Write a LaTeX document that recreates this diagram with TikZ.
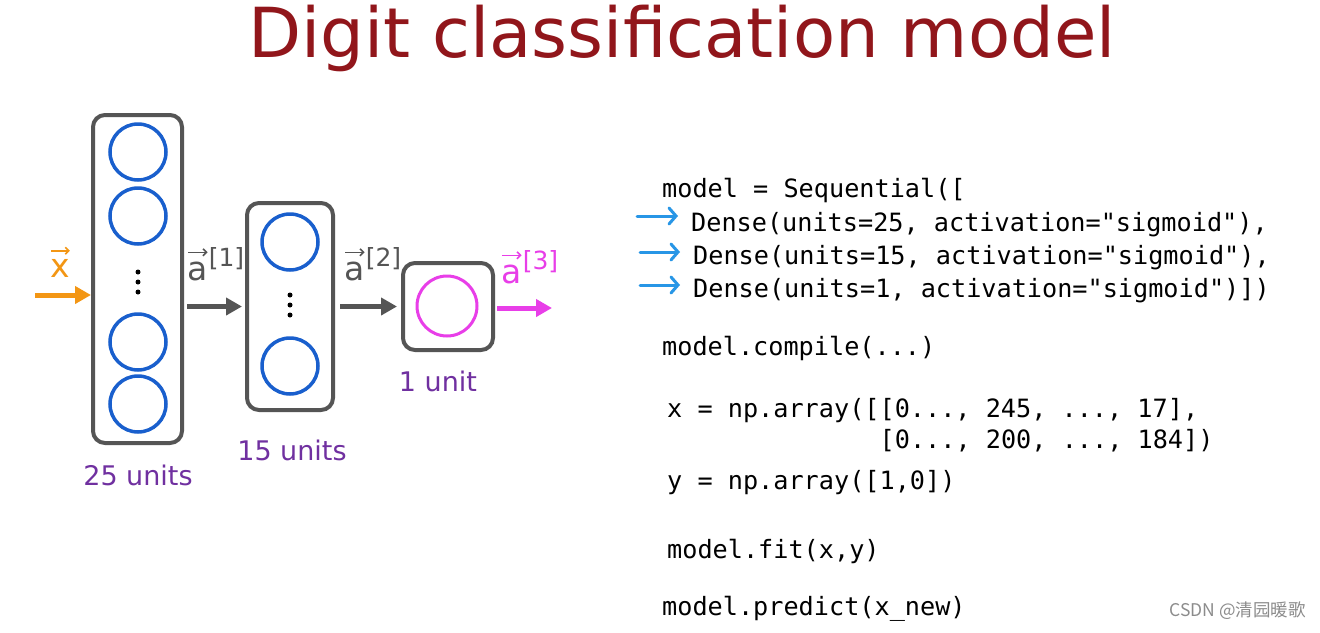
\documentclass[tikz,border=0pt]{standalone}
\usepackage{fontspec}
\setmainfont{DejaVu Sans}
\setmonofont{DejaVu Sans Mono}
\newfontfamily\cjkfont{Noto Sans CJK SC}
\usetikzlibrary{arrows.meta}
\definecolor{titlered}{RGB}{145,22,27}
\definecolor{boxgray}{RGB}{85,85,85}
\definecolor{unitblue}{RGB}{25,95,205}
\definecolor{outmag}{RGB}{232,62,232}
\definecolor{inorange}{RGB}{243,150,20}
\definecolor{unitpurple}{RGB}{112,48,160}
\definecolor{codeblue}{RGB}{40,150,230}
\begin{document}
\begin{tikzpicture}[x=1pt,y=-1pt,
  layerbox/.style={draw=boxgray, line width=4pt, rounded corners=12pt, inner sep=0pt},
  unit/.style={circle, draw=unitblue, line width=3.5pt, minimum size=56pt, inner sep=0pt},
  outunit/.style={circle, draw=outmag, line width=3pt, minimum size=60pt, inner sep=0pt},
  vdot/.style={circle, fill=black, minimum size=5pt, inner sep=0pt},
  unitlabel/.style={text=unitpurple, font=\fontsize{27}{30}\selectfont, anchor=base, inner sep=0pt},
  vlabel/.style={anchor=base west, inner sep=0pt, font=\fontsize{33}{36}\selectfont},
  suplabel/.style={anchor=base west, inner sep=0pt, font=\fontsize{25}{27}\selectfont},
  vecarrow/.style={line width=1.6pt, -{Straight Barb[length=3.5pt,width=7pt]}},
  flow/.style={line width=5pt, -{Triangle[length=16pt,width=17pt]}},
  code/.style={font=\ttfamily\fontsize{25.2}{28}\selectfont, anchor=base west, inner sep=0pt, text=black},
  codearrow/.style={draw=codeblue, line width=3pt, line cap=round, -{Straight Barb[length=7pt,width=16pt,line cap=round]}}
]
\fill[white] (0,0) rectangle (1320,632);
\useasboundingbox (0,0) rectangle (1320,632);

% title
\node[font=\fontsize{69}{72}\selectfont, text=titlered, anchor=base, inner sep=0pt] (title) at (682,57) {Digit classification model};

% layer boxes
\node[layerbox, minimum width=89pt, minimum height=328pt] (L1) at (137.5,279) {};
\node[layerbox, minimum width=86pt, minimum height=207pt] (L2) at (290,306.5) {};
\node[layerbox, minimum width=90pt, minimum height=87pt] (L3) at (448,306.5) {};

% units
\node[unit] (u11) at (138,152) {};
\node[unit] (u12) at (138,216) {};
\node[unit] (u13) at (138,342) {};
\node[unit] (u14) at (138,404) {};
\node[vdot] (d11) at (138,272) {};
\node[vdot] (d12) at (138,282) {};
\node[vdot] (d13) at (138,292) {};
\node[unit] (u21) at (290,242) {};
\node[unit] (u22) at (290,366) {};
\node[vdot] (d21) at (290,295) {};
\node[vdot] (d22) at (290,305) {};
\node[vdot] (d23) at (290,315) {};
\node[outunit] (u31) at (447,306) {};

% unit labels
\node[unitlabel] (n25) at (138,485) {25 units};
\node[unitlabel] (n15) at (292,460) {15 units};
\node[unitlabel] (n1) at (438,391) {1 unit};

% flow arrows
\coordinate (xin) at (35,295);
\coordinate (aout) at (552,308);
\draw[flow, inorange] (xin) -- (xin -| L1.west);
\draw[flow, boxgray, shorten <=3pt, shorten >=3pt] (L1.east |- L2.west) -- (L2.west);
\draw[flow, boxgray, shorten <=5pt, shorten >=4pt] (L2.east |- L3.west) -- (L3.west);
\draw[flow, outmag, shorten <=2pt] (L3.east |- aout) -- (aout);

% vector labels
\node[vlabel, text=inorange] (lx) at (50,277) {x};
\node[vlabel, text=boxgray] (la1) at (187,280) {a};
\node[vlabel, text=boxgray] (la2) at (344,280) {a};
\node[vlabel, text=outmag] (la3) at (501,283) {a};
\node[suplabel, text=boxgray] (sa1) at ([xshift=1pt,yshift=14pt]la1.base east) {[1]};
\node[suplabel, text=boxgray] (sa2) at ([xshift=1pt,yshift=14pt]la2.base east) {[2]};
\node[suplabel, text=outmag] (sa3) at ([xshift=1pt,yshift=14pt]la3.base east) {[3]};
\draw[vecarrow, inorange] ([xshift=1pt,yshift=8pt]lx.north west) -- ([yshift=8pt]lx.north east);
\draw[vecarrow, boxgray] ([xshift=1pt,yshift=9pt]la1.north west) -- ([yshift=9pt]la1.north east);
\draw[vecarrow, boxgray] ([xshift=1pt,yshift=9pt]la2.north west) -- ([yshift=9pt]la2.north east);
\draw[vecarrow, outmag] ([xshift=1pt,yshift=9pt]la3.north west) -- ([yshift=9pt]la3.north east);

% code
\node[code] (c0) at (662,197) {model = Sequential([};
\node[code] (c1) at (691,231) {Dense(units=25, activation="sigmoid"),};
\node[code] (c2) at (693,264) {Dense(units=15, activation="sigmoid"),};
\node[code] (c3) at (693,297) {Dense(units=1, activation="sigmoid")])};
\node[code] (c4) at (662,355) {model.compile(...)};
\node[code] (c5) at (667,417) {x = np.array([[0..., 245, ..., 17],};
\node[code] (c6) at (879.5,448) {[0..., 200, ..., 184])};
\node[code] (c7) at (667,489) {y = np.array([1,0])};
\node[code] (c8) at (667,558) {model.fit(x,y)};
\node[code] (c9) at (662,615) {model.predict(x\_new)};

% code pointers
\coordinate (b1) at (637,216);
\coordinate (b2) at (640,252);
\coordinate (b3) at (640,285);
\draw[codearrow, shorten >=13pt] (b1) -- (b1 -| c1.west);
\draw[codearrow, shorten >=13pt] (b2) -- (b2 -| c2.west);
\draw[codearrow, shorten >=13pt] (b3) -- (b3 -| c3.west);

% watermark
\node[font=\cjkfont\fontsize{17.5}{19}\selectfont, text=black!45, anchor=east, inner sep=0pt] (wm) at (1306,611) {CSDN @清园暖歌};
\end{tikzpicture}
\end{document}
